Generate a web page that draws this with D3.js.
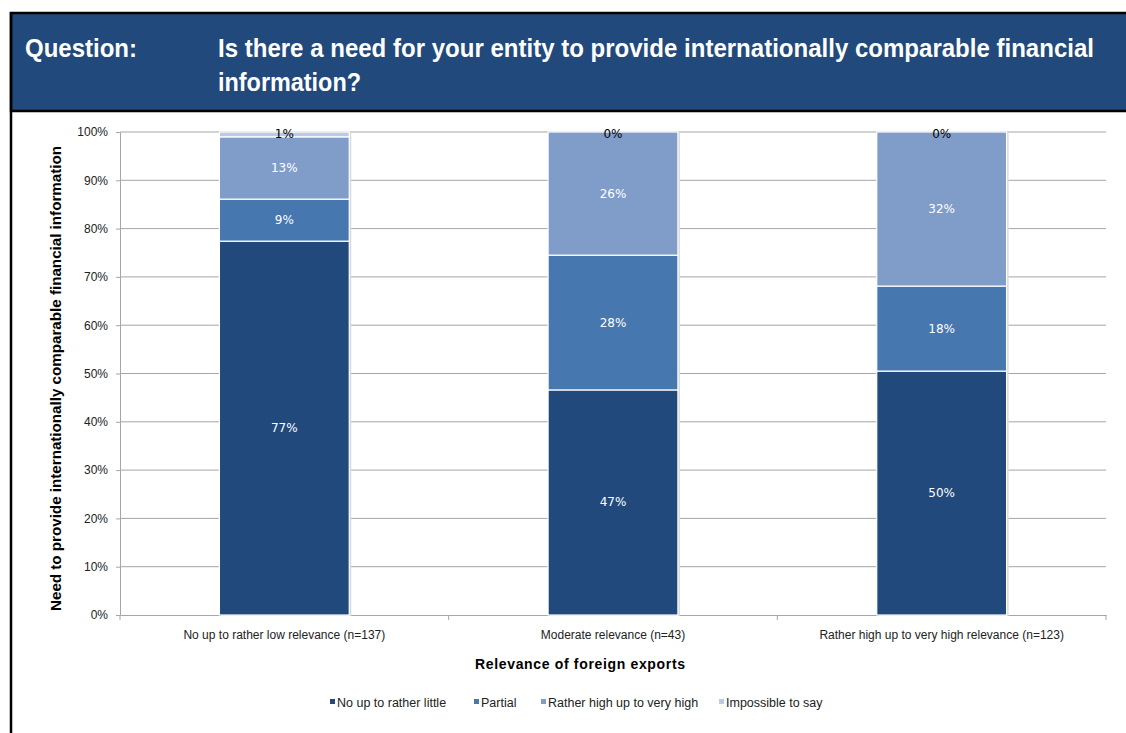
<!DOCTYPE html>
<html>
<head>
<meta charset="utf-8">
<script src="https://cdn.jsdelivr.net/npm/d3@7"></script>
<style>
  body { margin: 0; background: #fff; }
  svg { display: block; }
</style>
</head>
<body>
<svg id="chart" width="1126" height="733"></svg>
<script>
// categories and series (shares in %)
var categories = ["No up to rather low relevance (n=137)", "Moderate relevance (n=43)", "Rather high up to very high relevance (n=123)"];
var seriesNames = ["No up to rather little", "Partial", "Rather high up to very high", "Impossible to say"];
var noLittle   = [77.4, 46.6, 50.5];
var partial    = [8.7, 27.9, 17.6];
var ratherHigh = [12.9, 25.5, 31.9];
var impossible = [1.0, 0.0, 0.0];
var seriesLabels = [["77%", "47%", "50%"], ["9%", "28%", "18%"], ["13%", "26%", "32%"], ["1%", "0%", "0%"]];
var yTicks = [0, 10, 20, 30, 40, 50, 60, 70, 80, 90, 100];
var colors = ["#21497b", "#4677af", "#7f9dc8", "#bccae2"];

var svg = d3.select("#chart");

// header band
svg.append("rect")
  .attr("x", 11).attr("y", 13)
  .attr("width", 1120).attr("height", 98)
  .style("fill", "#21497b")
  .style("stroke", "#000").style("stroke-width", 2.5);

// left frame line
svg.append("line")
  .attr("x1", 11).attr("x2", 11)
  .attr("y1", 12).attr("y2", 733)
  .style("stroke", "#000").style("stroke-width", 2.5);

var head = svg.append("g")
  .style("font-family", "'Liberation Sans', Arial, sans-serif")
  .style("font-weight", "bold")
  .style("font-size", "25px")
  .style("fill", "#fff");
head.append("text").attr("x", 25).attr("y", 57)
  .attr("textLength", 112).attr("lengthAdjust", "spacingAndGlyphs")
  .text("Question:");
head.append("text").attr("x", 218).attr("y", 57)
  .attr("textLength", 876).attr("lengthAdjust", "spacingAndGlyphs")
  .text("Is there a need for your entity to provide internationally comparable financial");
head.append("text").attr("x", 218).attr("y", 91)
  .attr("textLength", 143).attr("lengthAdjust", "spacingAndGlyphs")
  .text("information?");

// plot area
var plotLeft = 120, plotRight = 1106, plotTop = 132, plotBottom = 615;

var x = d3.scaleBand().domain(categories).range([plotLeft, plotRight]).paddingInner(0).paddingOuter(0);
var y = d3.scaleLinear().domain([0, 100]).range([plotBottom, plotTop]);
var barW = x.bandwidth() * 0.395;

// gridlines
svg.append("g").selectAll("line")
  .data(yTicks.filter(function (d) { return d > 0; }))
  .enter().append("line")
  .attr("x1", plotLeft).attr("x2", plotRight)
  .attr("y1", function (d) { return y(d); })
  .attr("y2", function (d) { return y(d); })
  .style("stroke", "#a6a6a6").style("stroke-width", 1);

// y axis
var yAxis = svg.append("g")
  .attr("transform", "translate(" + plotLeft + ",0)")
  .call(d3.axisLeft(y).tickValues(yTicks).tickSize(4).tickPadding(8)
    .tickFormat(function (d) { return d + "%"; }));
yAxis.select(".domain").style("stroke", "#a6a6a6");
yAxis.selectAll(".tick line").style("stroke", "#a6a6a6");
yAxis.selectAll("text")
  .style("font-family", "'Liberation Sans', Arial, sans-serif")
  .style("font-size", "12px").style("fill", "#222");

// x axis
var xAxis = svg.append("g")
  .attr("transform", "translate(0," + plotBottom + ")")
  .call(d3.axisBottom(x).tickSize(0).tickPadding(15));
xAxis.select(".domain").style("stroke", "#a6a6a6");
xAxis.selectAll("text")
  .style("font-family", "'Liberation Sans', Arial, sans-serif")
  .style("font-size", "12px").style("fill", "#222");
// category boundary ticks
svg.append("g").selectAll("line")
  .data([plotLeft].concat(categories.map(function (c) { return x(c) + x.bandwidth(); })))
  .enter().append("line")
  .attr("x1", function (d) { return d; }).attr("x2", function (d) { return d; })
  .attr("y1", plotBottom).attr("y2", plotBottom + 5)
  .style("stroke", "#a6a6a6");

// stacked data
var rows = categories.map(function (c, i) {
  return { cat: c, s0: noLittle[i], s1: partial[i], s2: ratherHigh[i], s3: impossible[i] };
});
var stack = d3.stack().keys(["s0", "s1", "s2", "s3"]);
var stacked = stack(rows);

// bar shadows
svg.append("g").selectAll("rect")
  .data(rows).enter().append("rect")
  .attr("x", function (d) { return x(d.cat) + (x.bandwidth() - barW) / 2 + 2; })
  .attr("y", y(100) + 1)
  .attr("width", barW)
  .attr("height", y(0) - y(100))
  .style("fill", "#d9d9d9");

var layers = svg.append("g").selectAll("g")
  .data(stacked).enter().append("g")
  .style("fill", function (d, i) { return colors[i]; });

layers.selectAll("rect")
  .data(function (d) { return d; })
  .enter().append("rect")
  .attr("x", function (d) { return x(d.data.cat) + (x.bandwidth() - barW) / 2; })
  .attr("y", function (d) { return y(d[1]); })
  .attr("width", barW)
  .attr("height", function (d) { return y(d[0]) - y(d[1]); })
  .style("stroke", "#fff").style("stroke-width", 1.2);

// data labels
stacked.forEach(function (layer, li) {
  svg.append("g").selectAll("text")
    .data(layer).enter().append("text")
    .attr("x", function (d) { return x(d.data.cat) + x.bandwidth() / 2; })
    .attr("y", function (d) {
      if (li === 3) return y(100) + 6;
      return y((d[0] + d[1]) / 2) + 4;
    })
    .attr("text-anchor", "middle")
    .style("font-family", "'DejaVu Sans', Verdana, sans-serif")
    .style("font-size", "12px")
    .style("fill", li === 3 ? "#000" : "#fff")
    .text(function (d, i) { return seriesLabels[li][i]; });
});

// axis titles
svg.append("text")
  .attr("transform", "translate(61," + ((plotTop + plotBottom) / 2 + 5) + ") rotate(-90)")
  .attr("text-anchor", "middle")
  .attr("textLength", 465).attr("lengthAdjust", "spacingAndGlyphs")
  .style("font-family", "'Liberation Sans', Arial, sans-serif")
  .style("font-weight", "bold").style("font-size", "14px")
  .text("Need to provide internationally comparable financial information");

svg.append("text")
  .attr("x", 475).attr("y", 669)
  .attr("textLength", 210).attr("lengthAdjust", "spacing")
  .style("font-family", "'Liberation Sans', Arial, sans-serif")
  .style("font-weight", "bold").style("font-size", "14px")
  .text("Relevance of foreign exports");

// legend
var legendX = [330, 474, 541, 719];
var legend = svg.append("g").selectAll("g")
  .data(seriesNames).enter().append("g")
  .attr("transform", function (d, i) { return "translate(" + legendX[i] + ",703)"; });
legend.append("rect")
  .attr("x", 0).attr("y", -4).attr("width", 5).attr("height", 5)
  .style("fill", function (d, i) { return colors[i]; });
legend.append("text")
  .attr("x", 7).attr("y", 4)
  .style("font-family", "'Liberation Sans', Arial, sans-serif")
  .style("font-size", "12.5px").style("fill", "#222")
  .text(function (d) { return d; });
</script>
</body>
</html>
